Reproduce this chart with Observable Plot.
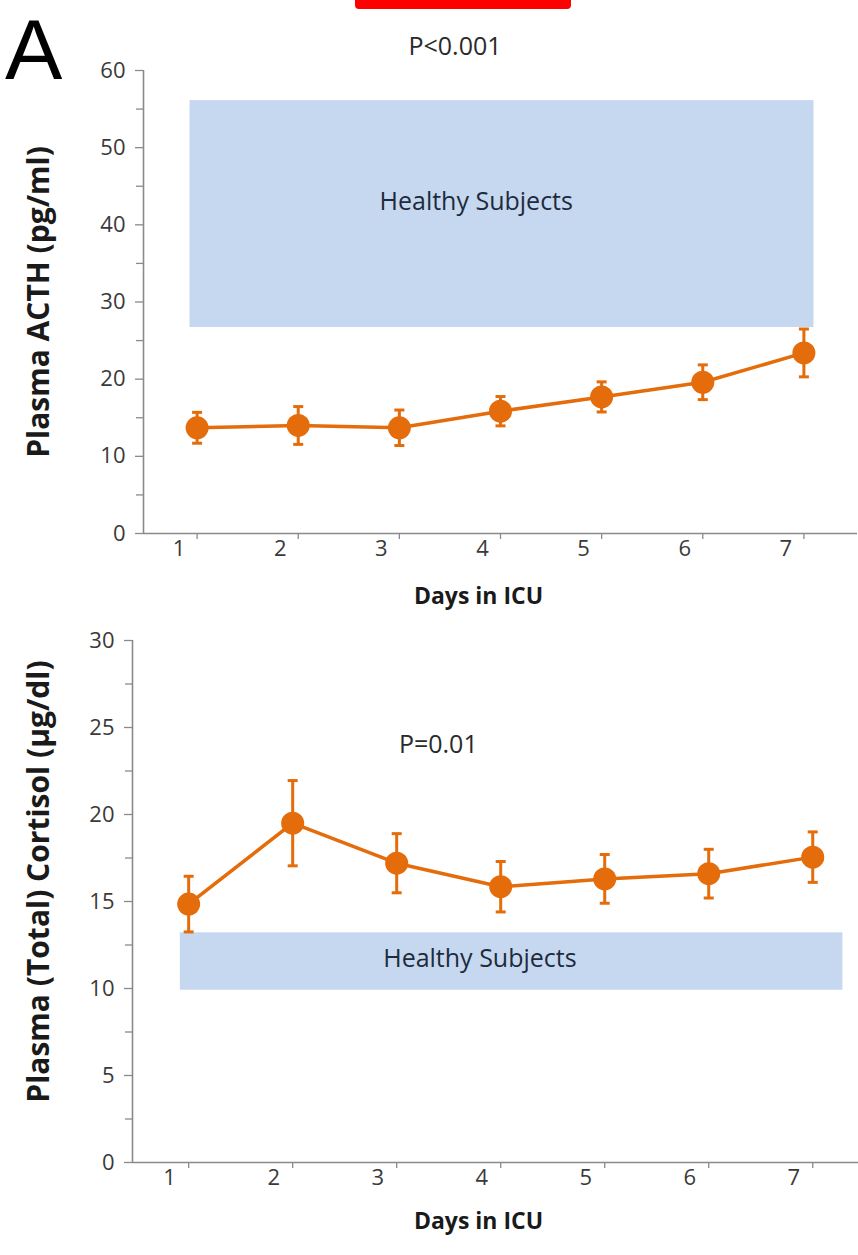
<!DOCTYPE html>
<html>
<head>
<meta charset="utf-8">
<script src="https://cdn.jsdelivr.net/npm/d3@7"></script>
<script src="https://cdn.jsdelivr.net/npm/@observablehq/plot@0.6"></script>
<style>
  html, body { margin: 0; padding: 0; background: #fff; }
  #wrap { position: relative; width: 858px; height: 1255px; overflow: hidden; font-family: "Open Sans", sans-serif; }
  #panelA { position: absolute; left: 5px; top: 0px; font-family: "Liberation Sans", Arial, sans-serif; font-size: 86px; color: #000; line-height: normal; }
  #redbar { position: absolute; left: 355px; top: -6px; width: 216px; height: 15px; background: #ff0000; border-radius: 4px; }
  svg { display: block; }
</style>
</head>
<body>
<div id="wrap">
  <div id="charts"></div>
  <div id="redbar"></div>
  <div id="panelA">A</div>
</div>
<script>
// ---- data ----
const days = [1, 2, 3, 4, 5, 6, 7];
const dayTicks = [1, 2, 3, 4, 5, 6, 7];

const acthMean = [13.7, 14.0, 13.7, 15.85, 17.7, 19.6, 23.4];
const acthErr  = [2.0, 2.45, 2.3, 1.9, 1.95, 2.25, 3.1];
const acthYTicks = [0, 10, 20, 30, 40, 50, 60];
const acthYMinor = [5, 15, 25, 35, 45, 55];
const acthHealthyDays = [0.93, 7.1];
const acthHealthyRange = [26.7, 56.1];

const cortisolMean = [14.85, 19.5, 17.2, 15.85, 16.3, 16.6, 17.55];
const cortisolErr  = [1.6, 2.45, 1.7, 1.45, 1.4, 1.4, 1.45];
const cortisolYTicks = [0, 5, 10, 15, 20, 25, 30];
const cortisolYMinor = [2.5, 7.5, 12.5, 17.5, 22.5, 27.5];
const cortisolHealthyDays = [0.92, 7.29];
const cortisolHealthyRange = [9.9, 13.2];

const acthLabel = "Plasma ACTH (pg/ml)";
const cortisolLabel = "Plasma (Total) Cortisol (µg/dl)";
const xLabel = "Days in ICU";
const healthyLabel = "Healthy Subjects";
const acthP = "P<0.001";
const cortisolP = "P=0.01";

// ---- build ----
const orange = "#e46c0a";
const boxBlue = "#c6d8f0";
const axisGray = "#8a8a8a";
const textGray = "#3a3a3a";

const capSymbol = {
  draw(context, size) {
    const r = Math.sqrt(size / Math.PI);
    context.moveTo(-r, 0);
    context.lineTo(r, 0);
  }
};

function rowsOf(means, errs) {
  return days.map((d, i) => ({day: d, mean: means[i], lo: means[i] - errs[i], hi: means[i] + errs[i]}));
}

function panel(opts) {
  const rows = rowsOf(opts.means, opts.errs);
  return Plot.plot({
    width: 858,
    height: opts.height,
    marginTop: opts.marginTop,
    marginBottom: opts.marginBottom,
    marginLeft: opts.marginLeft,
    marginRight: opts.marginRight,
    style: {fontFamily: "'Open Sans', sans-serif", color: textGray, background: "white", overflow: "visible"},
    x: {domain: opts.xDomain},
    y: {domain: [opts.yTicks[0], opts.yTicks[opts.yTicks.length - 1]]},
    marks: [
      Plot.rect([0], {
        x1: () => opts.healthyDays[0], x2: () => opts.healthyDays[1],
        y1: () => opts.healthyRange[0], y2: () => opts.healthyRange[1],
        fill: boxBlue
      }),
      Plot.text([healthyLabel], {x: () => opts.healthyTextAt[0], y: () => opts.healthyTextAt[1], text: d => d, fontSize: 25, fill: "#1e2b3c"}),
      Plot.text([opts.pText], {x: () => opts.pAt[0], y: () => opts.pAt[1], text: d => d, fontSize: 25, fill: "#2a2a2a"}),
      // axes
      Plot.axisY({ticks: opts.yMinor, tickSize: 7, tickFormat: () => "", stroke: axisGray, strokeWidth: 1.3}),
      Plot.axisY({ticks: opts.yTicks, tickSize: 8, tickPadding: 10, tickFormat: d => String(d), fontSize: 22, stroke: axisGray, strokeWidth: 1.3, label: null, fill: textGray}),
      Plot.axisX({ticks: dayTicks, tickSize: 6, tickFormat: () => "", stroke: axisGray, strokeWidth: 1.3, label: null}),
      Plot.axisX({ticks: dayTicks, tickSize: 0, tickPadding: 7, tickFormat: d => String(d), dx: opts.xLabelDx, fontSize: 22, fill: textGray, label: null}),
      Plot.ruleX([opts.xDomain[0]], {stroke: axisGray, strokeWidth: 1.6}),
      Plot.ruleY([0], {stroke: axisGray, strokeWidth: 1.6}),
      Plot.text([opts.yLabel], {frameAnchor: "left", textAnchor: "middle", lineAnchor: "middle", rotate: -90, dx: opts.yLabelDx, dy: opts.yLabelDy, text: d => d, fontSize: 30, fontWeight: "bold", fill: "#1a1a1a"}),
      Plot.text([xLabel], {frameAnchor: "bottom", textAnchor: "middle", dx: opts.xTitleDx, dy: opts.xTitleDy, text: d => d, fontSize: 23, fontWeight: "bold", fill: "#1a1a1a"}),
      // data
      Plot.ruleX(rows, {x: "day", y1: "lo", y2: "hi", stroke: orange, strokeWidth: 3}),
      Plot.dot(rows, {x: "day", y: "hi", symbol: capSymbol, r: 5, stroke: orange, strokeWidth: 3, fill: "none"}),
      Plot.dot(rows, {x: "day", y: "lo", symbol: capSymbol, r: 5, stroke: orange, strokeWidth: 3, fill: "none"}),
      Plot.line(rows, {x: "day", y: "mean", stroke: orange, strokeWidth: 3.5}),
      Plot.dot(rows, {x: "day", y: "mean", r: 11.5, fill: orange, stroke: "none"})
    ]
  });
}

const acthChart = panel({
  height: 620, marginTop: 70, marginBottom: 87, marginLeft: 143, marginRight: 1,
  xDomain: [0.47, 7.53],
  means: acthMean, errs: acthErr,
  yTicks: acthYTicks, yMinor: acthYMinor,
  healthyDays: acthHealthyDays, healthyRange: acthHealthyRange,
  healthyTextAt: [3.76, 42.9],
  pText: acthP, pAt: [3.55, 63.0],
  yLabel: acthLabel, yLabelDx: -104, yLabelDy: 0,
  xLabelDx: -18, xTitleDx: -22, xTitleDy: 70
});

const cortisolChart = panel({
  height: 635, marginTop: 20, marginBottom: 93, marginLeft: 132, marginRight: 0,
  xDomain: [0.46, 7.44],
  means: cortisolMean, errs: cortisolErr,
  yTicks: cortisolYTicks, yMinor: cortisolYMinor,
  healthyDays: cortisolHealthyDays, healthyRange: cortisolHealthyRange,
  healthyTextAt: [3.8, 11.7],
  pText: cortisolP, pAt: [3.4, 24.0],
  yLabel: cortisolLabel, yLabelDx: -93, yLabelDy: -20,
  xLabelDx: -19, xTitleDx: -17, xTitleDy: 66
});

const host = document.getElementById("charts");
host.appendChild(acthChart);
host.appendChild(cortisolChart);
</script>
</body>
</html>
